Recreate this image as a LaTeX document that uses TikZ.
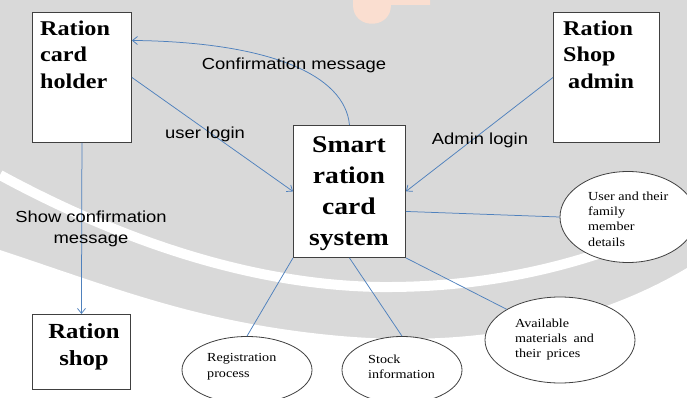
\documentclass[tikz,border=0pt]{standalone}
\usepackage{fontspec}
\setmainfont{Liberation Serif}
\newfontfamily\srf[FakeStretch=1.15]{Liberation Serif}
\newfontfamily\sns[FakeStretch=1.15]{Liberation Sans}
\usetikzlibrary{arrows.meta,shapes.geometric}
\definecolor{lineblue}{RGB}{79,129,189}
\definecolor{wmgray}{RGB}{217,217,217}
\definecolor{wmorange}{RGB}{250,222,208}
\definecolor{edgegray}{RGB}{64,64,64}
\begin{document}
\begin{tikzpicture}[x=1pt,y=-1pt,
  boxnode/.style={draw=edgegray, line width=0.9pt, fill=white, rectangle, inner sep=0pt, anchor=north west},
  boxtext/.style={font=\srf\bfseries\fontsize{21}{26.5}\selectfont, inner sep=0pt, align=left, anchor=north west},
  ovalnode/.style={draw=edgegray, line width=0.8pt, fill=white, ellipse, inner sep=0pt},
  ovaltext/.style={font=\srf\fontsize{12.3}{15.3}\selectfont, inner sep=0pt, align=left, anchor=north west},
  flowlabel/.style={font=\sns\fontsize{16}{21}\selectfont, inner sep=0pt, align=center},
  link/.style={draw=lineblue, line width=0.75pt},
  arrowlink/.style={link, -{Straight Barb[length=5pt,width=8pt]}},
]
% background and faint watermark shapes
\fill[wmgray] (0,0) rectangle (687,398);
\useasboundingbox (0,0) rectangle (687,398);
\fill[white] (0,250) .. controls (120,290) and (200,322) .. (330,335)
  .. controls (480,350) and (600,320) .. (687,268) -- (687,398) -- (0,398) -- cycle;
\draw[white, line width=10pt] (0,175) .. controls (120,240) and (250,285) .. (380,287)
  .. controls (500,288) and (600,260) .. (687,218);
\fill[wmorange] (353,0) -- (430,0) -- (430,5) -- (391,5) .. controls (391,30) and (353,30) .. (353,5) -- cycle;

% boxes
\node[boxnode, minimum width=99pt, minimum height=130pt] (rch) at (32,12) {};
\node[boxnode, minimum width=106pt, minimum height=130pt] (rsa) at (553,12) {};
\node[boxnode, minimum width=112pt, minimum height=132pt] (smart) at (293,125) {};
\node[boxnode, minimum width=98pt, minimum height=75pt] (rs) at (32,314) {};

\node[boxtext] (rchT) at (40,20.5) {Ration\\card\\holder};
\node[boxtext] (rsaT) at (563,20.5) {Ration\\Shop\\\hspace{5pt}admin};
\node[boxtext, align=center, anchor=north, font=\srf\bfseries\fontsize{24}{31}\selectfont] (smartT) at (349,136.5) {Smart\\ration\\card\\system};
\node[boxtext, align=center, anchor=north, font=\srf\bfseries\fontsize{21.5}{27}\selectfont] (rsT) at (84,323.5) {Ration\\shop};

% ellipses
\node[ovalnode, minimum width=136pt, minimum height=91pt] (ud) at (628,217) {};
\node[ovalnode, minimum width=150pt, minimum height=86pt] (av) at (560,340) {};
\node[ovalnode, minimum width=120pt, minimum height=67pt] (st) at (402,370) {};
\node[ovalnode, minimum width=130pt, minimum height=67pt] (rg) at (247,370) {};

\node[ovaltext] (udT) at (588,191.6) {User and their\\family\\member\\details};
\node[ovaltext, font=\srf\fontsize{12.3}{15}\selectfont] (avT) at (515,318.6) {Available\\materials\hspace{3pt} and\\their\hspace{2pt} prices};
\node[ovaltext] (stT) at (368,354.6) {Stock\\information};
\node[ovaltext] (rgT) at (207,353.6) {Registration\\process};

% connectors
\draw[arrowlink] (smart.north) .. controls (345,75) and (270,42) .. ([yshift=37pt]rch.east);
\draw[arrowlink] (rch.east) -- (smart.west);
\draw[arrowlink] (rsa.west) -- (smart.east);
\draw[arrowlink] (rch.south) -- (rs.north);
\draw[link] ([yshift=-20pt]smart.east) -- (ud.west);
\draw[link] (smart.south east) -- (av.north west);
\draw[link] (smart.south) -- (st.north);
\draw[link] (smart.south west) -- (rg.north);

% labels
\node[flowlabel] (lconf) at (294,65) {Confirmation message};
\node[flowlabel] (luser) at (205,134) {user login};
\node[flowlabel] (ladmin) at (480,140) {Admin login};
\node[flowlabel] (lshow) at (91,229) {Show confirmation\\message};
\end{tikzpicture}
\end{document}
